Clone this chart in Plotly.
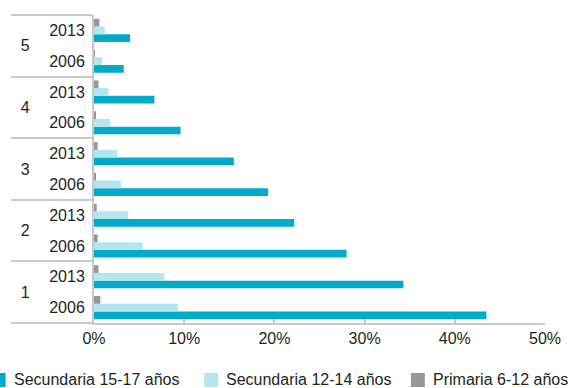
import plotly.graph_objects as go

# Quintile / survey-year categories (bottom to top)
quintiles = ["1", "1", "2", "2", "3", "3", "4", "4", "5", "5"]
years = ["2006", "2013", "2006", "2013", "2006", "2013", "2006", "2013", "2006", "2013"]

# Out-of-school rates (%) by level and age group
sec_15_17 = [43.5, 34.3, 28.0, 22.2, 19.3, 15.5, 9.6, 6.7, 3.3, 4.0]
sec_12_14 = [9.3, 7.8, 5.4, 3.8, 3.0, 2.6, 1.8, 1.6, 0.9, 1.2]
pri_6_12 = [0.7, 0.5, 0.4, 0.3, 0.2, 0.4, 0.2, 0.5, 0.1, 0.6]

series_names = ["Secundaria 15-17 años", "Secundaria 12-14 años", "Primaria 6-12 años"]
series_values = [sec_15_17, sec_12_14, pri_6_12]
series_colors = ["#00AAC8", "#B4E6F0", "#96969B"]

x_ticks = [0, 10, 20, 30, 40, 50]

FONT = "Liberation Sans, Arial, sans-serif"
FSIZE = 16
W, H = 573, 388
M_L, M_R, M_T, M_B = 94, 25, 15, 65
plot_w = W - M_L - M_R
plot_h = H - M_T - M_B

# non-breaking spaces widen the outer label column so the group dividers
# reach further left and the quintile number sits away from the years
NB = "\u00a0"
quintile_labels = [NB * 2 + q + NB * 3 for q in quintiles]


def px_x(p):
    return (p - M_L) / plot_w


def px_y(p):
    return (H - M_B - p) / plot_h


fig = go.Figure()
for name, vals, col in zip(series_names, series_values, series_colors):
    fig.add_trace(go.Bar(
        x=vals, y=[quintile_labels, years], orientation="h", name=name,
        marker=dict(color=col, line=dict(width=0)), showlegend=False,
    ))

# Legend row below the chart
legend_x = [-9, 205, 413]
shapes = []
annotations = []
for lx, name, col in zip(legend_x, series_names, series_colors):
    shapes.append(dict(type="rect", xref="paper", yref="paper",
                       x0=px_x(lx), x1=px_x(lx + 14), y0=px_y(387), y1=px_y(373),
                       fillcolor=col, line=dict(width=0)))
    annotations.append(dict(text=name, xref="paper", yref="paper",
                            x=px_x(lx + 21), y=px_y(379), xanchor="left", yanchor="middle",
                            xshift=-1, showarrow=False,
                            font=dict(family=FONT, size=FSIZE, color="#231F20")))

axis_grey = "#C8C8C8"
fig.update_layout(
    width=W, height=H,
    margin=dict(l=M_L, r=M_R, t=M_T, b=M_B),
    barmode="group", bargap=0.25, bargroupgap=0,
    plot_bgcolor="white", paper_bgcolor="white",
    font=dict(family=FONT, size=FSIZE, color="#231F20"),
    shapes=shapes, annotations=annotations,
    xaxis=dict(range=[0, 50], tickvals=x_ticks, ticktext=[f"{v}%" for v in x_ticks],
               showgrid=False, zeroline=False, showline=True, linecolor=axis_grey, linewidth=2,
               ticks="inside", ticklen=4, tickwidth=1.5, tickcolor=axis_grey,
               tickfont=dict(family=FONT, size=FSIZE)),
    yaxis=dict(type="multicategory", showgrid=False, zeroline=False,
               showline=True, linecolor=axis_grey, linewidth=2, ticks="",
               showdividers=True, dividercolor=axis_grey, dividerwidth=2,
               ticklabelstandoff=4,
               tickfont=dict(family=FONT, size=FSIZE)),
)

fig.write_html("out.html")
